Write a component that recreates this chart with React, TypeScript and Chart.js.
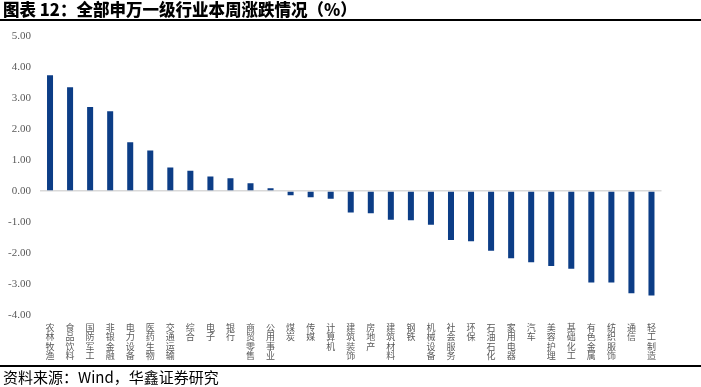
import React, { useEffect, useRef } from "react";
import { Chart, registerables } from "chart.js";

Chart.register(...registerables);

const categories: string[] = [
  "农林牧渔", "食品饮料", "国防军工", "非银金融", "电力设备", "医药生物", "交通运输", "综合",
  "电子", "银行", "商贸零售", "公用事业", "煤炭", "传媒", "计算机", "建筑装饰",
  "房地产", "建筑材料", "钢铁", "机械设备", "社会服务", "环保", "石油石化", "家用电器",
  "汽车", "美容护理", "基础化工", "有色金属", "纺织服饰", "通信", "轻工制造",
];

const weeklyChange: number[] = [
  3.73, 3.35, 2.71, 2.57, 1.57, 1.31, 0.76, 0.65,
  0.47, 0.41, 0.25, 0.09, -0.14, -0.2, -0.25, -0.69,
  -0.72, -0.93, -0.94, -1.09, -1.58, -1.62, -1.93, -2.17,
  -2.3, -2.42, -2.51, -2.95, -2.95, -3.3, -3.37,
];

const yMin = -4;
const yMax = 5;
const yStep = 1;

const titleText = "图表 12：全部申万一级行业本周涨跌情况（%）";
const sourceText = "资料来源：Wind，华鑫证券研究";

export default function App() {
  const canvasRef = useRef<HTMLCanvasElement | null>(null);

  useEffect(() => {
    document.body.style.margin = "0";
    const canvas = canvasRef.current;
    if (!canvas) return;
    const chart = new Chart(canvas, {
      type: "bar",
      data: {
        labels: categories.map((c) => c.split("")),
        datasets: [
          {
            data: weeklyChange,
            backgroundColor: "#0C3D86",
            borderWidth: 0,
            barPercentage: 0.3,
            categoryPercentage: 1,
          },
        ],
      },
      options: {
        animation: false,
        responsive: false,
        maintainAspectRatio: false,
        layout: { padding: { top: 36, right: 39.5, left: 0, bottom: 0 } },
        plugins: { legend: { display: false }, tooltip: { enabled: false } },
        scales: {
          x: {
            grid: { display: false, drawTicks: false },
            border: { display: false },
            ticks: {
              autoSkip: false,
              maxRotation: 0,
              minRotation: 0,
              padding: 8,
              color: "#595959",
              font: { family: "'Noto Sans CJK SC', sans-serif", size: 9, lineHeight: 1.04 },
            },
            afterFit: (scale: any) => {
              scale.height = 72;
            },
          },
          y: {
            min: yMin,
            max: yMax,
            ticks: {
              stepSize: yStep,
              padding: 9,
              color: "#595959",
              font: { family: "'Liberation Serif', 'DejaVu Serif', serif", size: 11 },
              callback: (v: any) => Number(v).toFixed(2),
            },
            grid: {
              drawTicks: false,
              color: (ctx: any) => (ctx.tick && ctx.tick.value === 0 ? "#D9D9D9" : "rgba(0,0,0,0)"),
              lineWidth: 1.5,
            },
            border: { display: false },
            afterFit: (scale: any) => {
              scale.width = 40;
            },
          },
        },
      },
    });
    return () => chart.destroy();
  }, []);

  return (
    <div style={{ position: "relative", width: 701, height: 387, background: "#fff", overflow: "hidden" }}>
      <canvas ref={canvasRef} width={701} height={387} style={{ position: "absolute", left: 0, top: 0 }} />
      <div
        style={{
          position: "absolute",
          left: 3,
          top: 0,
          fontFamily: "'Noto Sans CJK SC', sans-serif",
          fontWeight: 900,
          fontSize: 16.5,
          lineHeight: "19px",
          color: "#000",
          whiteSpace: "nowrap",
        }}
      >
        {titleText}
      </div>
      <div style={{ position: "absolute", left: 0, top: 19, width: 701, height: 1.5, background: "#000" }} />
      <div style={{ position: "absolute", left: 0, top: 364.5, width: 701, height: 2, background: "#000" }} />
      <div
        style={{
          position: "absolute",
          left: 3,
          top: 368,
          fontFamily: "'Noto Sans CJK SC', sans-serif",
          fontSize: 15,
          lineHeight: "18px",
          color: "#000",
          whiteSpace: "nowrap",
        }}
      >
        {sourceText}
      </div>
    </div>
  );
}
